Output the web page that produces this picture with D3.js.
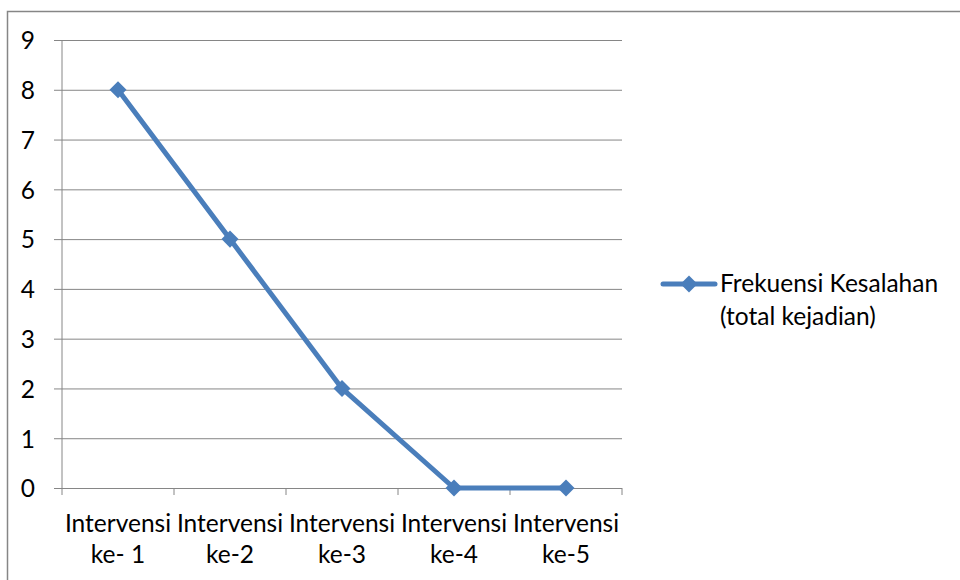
<!DOCTYPE html>
<html>
<head>
<meta charset="utf-8">
<script src="https://cdn.jsdelivr.net/npm/d3@7"></script>
<style>
  body { margin: 0; background: #fff; }
  svg text { font-family: Lato, "Open Sans", sans-serif; fill: #000; }
</style>
</head>
<body>
<svg id="chart" width="960" height="580"></svg>
<script>
// data
var categories = ["Intervensi ke- 1", "Intervensi ke-2", "Intervensi ke-3", "Intervensi ke-4", "Intervensi ke-5"];
var catLines = [["Intervensi", "ke- 1"], ["Intervensi", "ke-2"], ["Intervensi", "ke-3"], ["Intervensi", "ke-4"], ["Intervensi", "ke-5"]];
var values = [8, 5, 2, 0, 0];
var yTicks = [0, 1, 2, 3, 4, 5, 6, 7, 8, 9];
var seriesName = ["Frekuensi Kesalahan", "(total kejadian)"];

var svg = d3.select('#chart');
var gridColor = '#868686';
var lineColor = '#4A7EBB';
var fontSize = 24.5;

// outer chart border
svg.append('rect')
    .attr('x', 7.5).attr('y', 11.5)
    .attr('width', 1000).attr('height', 1000)
    .attr('fill', 'none')
    .attr('stroke', gridColor)
    .attr('stroke-width', 1.5);

var plot = { left: 62, right: 622, top: 40, bottom: 488 };

var x = d3.scaleBand().domain(categories).range([plot.left, plot.right]);
var y = d3.scaleLinear().domain([0, 9]).range([plot.bottom, plot.top]);

// gridlines + y ticks
var yAxis = d3.axisLeft(y).tickValues(yTicks).tickSize(-(plot.right - plot.left)).tickSizeOuter(0);
var gy = svg.append('g').attr('transform', 'translate(' + plot.left + ',0)').call(yAxis);
gy.select('.domain').remove();
gy.selectAll('.tick line').attr('stroke', gridColor).attr('stroke-width', 1).attr('x1', -8);
gy.selectAll('.tick text')
    .attr('font-size', fontSize)
    .attr('font-family', 'Lato, sans-serif')
    .attr('fill', '#000')
    .attr('x', -27).attr('dy', '0.36em');

// y axis line
svg.append('line')
    .attr('x1', plot.left).attr('x2', plot.left)
    .attr('y1', plot.top).attr('y2', plot.bottom)
    .attr('stroke', gridColor);

// x axis ticks at band boundaries
var bounds = categories.map(function (c) { return x(c); }).concat([plot.right]);
svg.append('g').selectAll('line').data(bounds).enter().append('line')
    .attr('x1', function (d) { return d; }).attr('x2', function (d) { return d; })
    .attr('y1', plot.bottom).attr('y2', plot.bottom + 7)
    .attr('stroke', gridColor);

// x labels
var xl = svg.append('g').selectAll('text').data(categories).enter().append('text')
    .attr('text-anchor', 'middle')
    .attr('font-size', fontSize)
    .attr('x', function (d) { return x(d) + x.bandwidth() / 2; });
xl.each(function (d, i) {
    var t = d3.select(this);
    catLines[i].forEach(function (s, j) {
        t.append('tspan')
            .attr('x', x(d) + x.bandwidth() / 2)
            .attr('y', 532 + j * 31)
            .text(s);
    });
});

// series line
var cx = function (d, i) { return x(categories[i]) + x.bandwidth() / 2; };
var line = d3.line().x(cx).y(function (d) { return y(d); });
svg.append('path')
    .datum(values)
    .attr('d', line)
    .attr('fill', 'none')
    .attr('stroke', lineColor)
    .attr('stroke-width', 5)
    .attr('stroke-linejoin', 'round');

var diamond = d3.symbol().type(d3.symbolDiamond2).size(185);
svg.append('g').selectAll('path').data(values).enter().append('path')
    .attr('d', diamond)
    .attr('transform', function (d, i) { return 'translate(' + cx(d, i) + ',' + y(d) + ')'; })
    .attr('fill', lineColor);

// legend
var lg = svg.append('g').attr('transform', 'translate(663,284)');
lg.append('line').attr('x1', 0).attr('x2', 52).attr('y1', 0).attr('y2', 0)
    .attr('stroke', lineColor).attr('stroke-width', 5).attr('stroke-linecap', 'round');
lg.append('path').attr('d', diamond).attr('transform', 'translate(26,0)').attr('fill', lineColor);
lg.selectAll('text').data(seriesName).enter().append('text')
    .attr('x', 57)
    .attr('y', function (d, i) { return 8 + i * 33; })
    .attr('font-size', fontSize)
    .text(function (d) { return d; });
</script>
</body>
</html>
